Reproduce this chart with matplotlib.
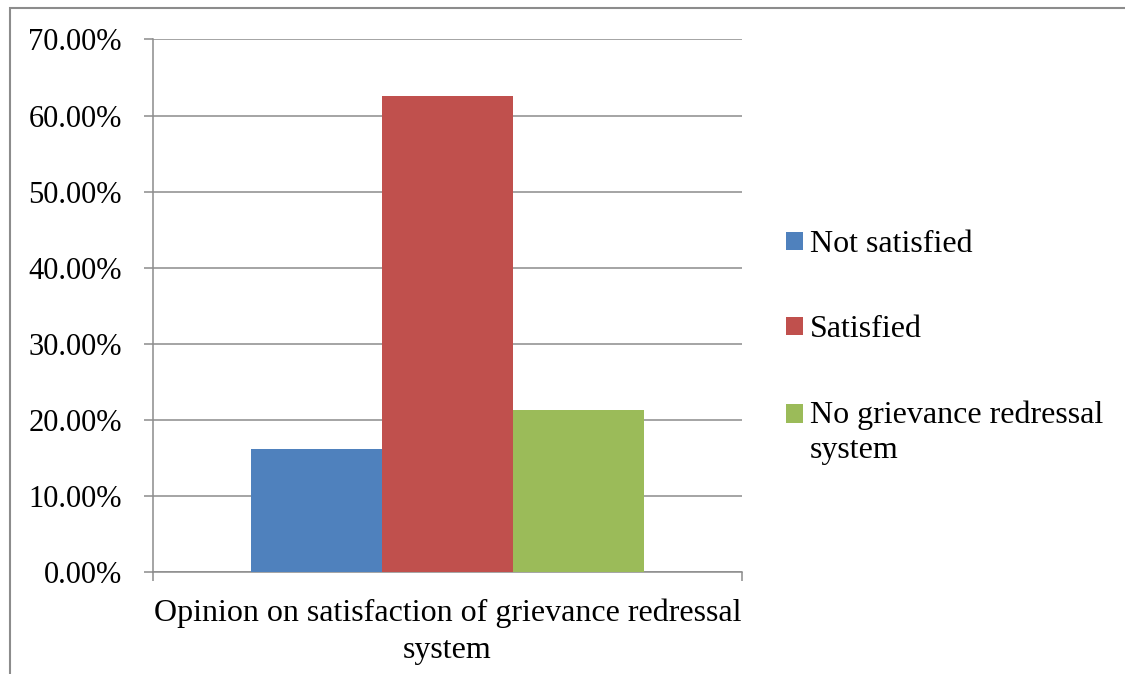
import matplotlib.pyplot as plt
from matplotlib.patches import Rectangle
from matplotlib.legend_handler import HandlerPatch
from matplotlib.ticker import FuncFormatter, MultipleLocator

plt.rcParams['font.family'] = ['Liberation Serif', 'DejaVu Serif']

# Datos
categoria = 'Opinion on satisfaction of grievance redressal\nsystem'
series = ['Not satisfied', 'Satisfied', 'No grievance redressal\nsystem']
valores = [16.1, 62.6, 21.3]
colores = ['#4f81bd', '#c0504d', '#9bbb59']

gris = '#8c8c8c'

fig = plt.figure(figsize=(11.25, 6.74), dpi=100)
ax = fig.add_axes([0.136, 0.1518, 0.5236, 0.7896])

# Barras agrupadas (gap width 150%)
ancho = 1 / (3 + 1.5)
barras = []
for i, (nombre, v, c) in enumerate(zip(series, valores, colores)):
    b = ax.bar((i - 1) * ancho, v, width=ancho, color=c, label=nombre, zorder=3)
    barras.append(b)

ax.set_xlim(-0.5, 0.5)
ax.set_ylim(0, 70)
ax.yaxis.set_major_locator(MultipleLocator(10))
ax.yaxis.set_major_formatter(FuncFormatter(lambda y, p: f'{y:.2f}%'))
ax.grid(axis='y', color=gris, linewidth=1.1, zorder=0)

ax.set_xticks([-0.5, 0.5])
ax.set_xticklabels(['', ''])
ax.tick_params(axis='x', direction='out', length=6.5, color=gris, width=1.1)
ax.tick_params(axis='y', direction='out', length=6.5, color=gris, width=1.1,
               labelsize=22, pad=16)
ax.set_xlabel(categoria, fontsize=23, linespacing=1.37, labelpad=9)

for s in ['top', 'right']:
    ax.spines[s].set_visible(False)
for s in ['left', 'bottom']:
    ax.spines[s].set_color(gris)
    ax.spines[s].set_linewidth(1.1)

handles = [b.patches[0] for b in barras]
# desplazamiento del marcador para que quede en la primera línea del texto
desplaz = {id(h): 13.6 * lab.count('\n') for h, lab in zip(handles, series)}


def cuadro(legend, orig_handle, xdescent, ydescent, width, height, fontsize):
    return Rectangle((-xdescent, -ydescent + desplaz[id(orig_handle)]), width, height)


leg = fig.legend(handles, series, loc='center left', bbox_to_anchor=(0.673, 0.484),
                 frameon=False, fontsize=23, handlelength=0.53, handleheight=0.53,
                 handletextpad=0.22, labelspacing=1.75,
                 handler_map={h: HandlerPatch(patch_func=cuadro) for h in handles})
for t in leg.get_texts():
    t.set_linespacing(1.3)

# Borde exterior
fig.add_artist(Rectangle((10 / 1125, -0.1), 1.2, 1.1 - 8 / 674, transform=fig.transFigure,
                         fill=False, edgecolor=gris, linewidth=1.5))

plt.savefig('out.png', dpi=100)
